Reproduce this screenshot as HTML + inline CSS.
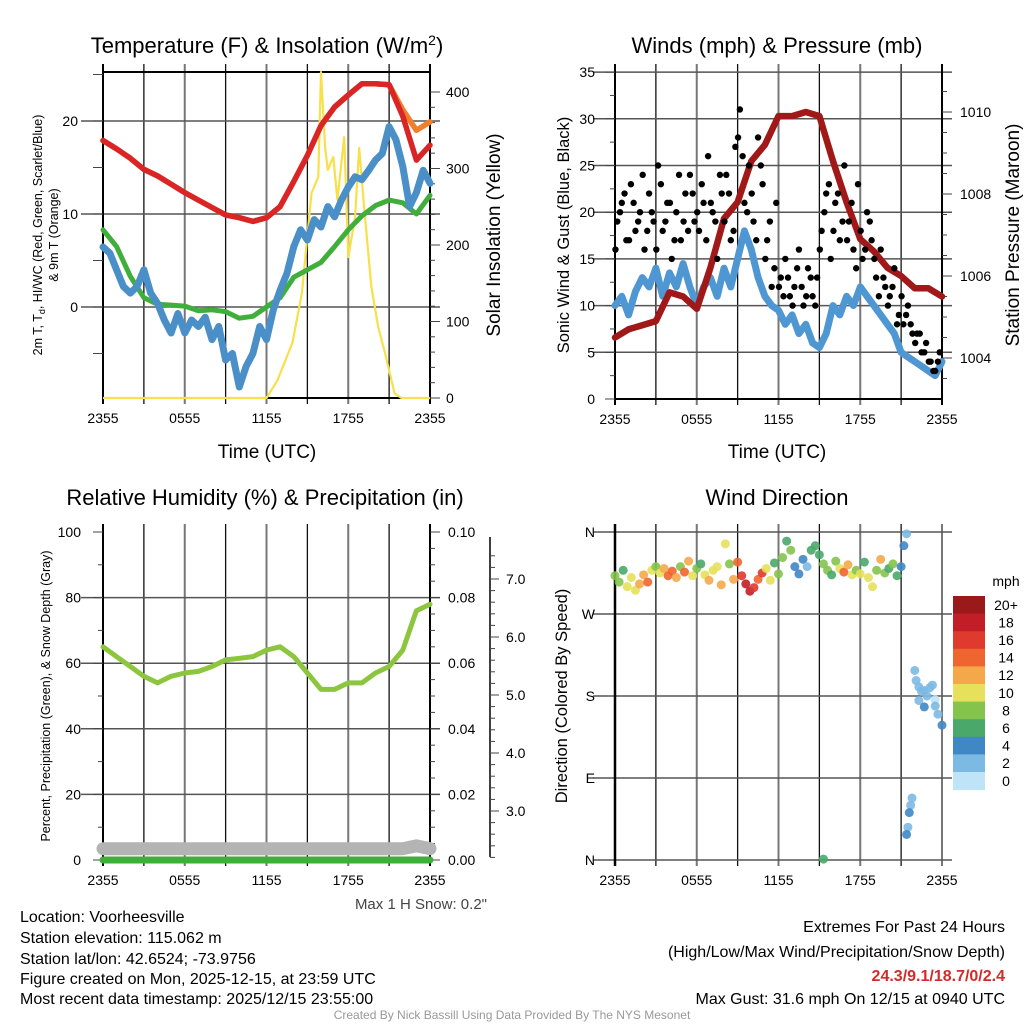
<!DOCTYPE html>
<html><head><meta charset="utf-8"><style>
html,body{margin:0;padding:0;background:#fff}
svg{display:block;font-family:"Liberation Sans",Arial,sans-serif}
</style></head><body>
<svg id="fig" width="1024" height="1024" viewBox="0 0 1024 1024">
<rect width="1024" height="1024" fill="#fff"/>
<g id="p1"></g>
<g id="p2"></g>
<g id="p3"></g>
<g id="p4"></g>
<g font-size="16" fill="#000">
<text x="20" y="922">Location: Voorheesville</text>
<text x="20" y="943">Station elevation: 115.062 m</text>
<text x="20" y="964">Station lat/lon: 42.6524; -73.9756</text>
<text x="20" y="984">Figure created on Mon, 2025-12-15, at 23:59 UTC</text>
<text x="20" y="1004">Most recent data timestamp: 2025/12/15 23:55:00</text>
<text x="1005" y="932" text-anchor="end">Extremes For Past 24 Hours</text>
<text x="1005" y="957" text-anchor="end">(High/Low/Max Wind/Precipitation/Snow Depth)</text>
<text x="1005" y="981" text-anchor="end" fill="#d42a2a" font-weight="bold">24.3/9.1/18.7/0/2.4</text>
<text x="1005" y="1004" text-anchor="end">Max Gust: 31.6 mph On 12/15 at 0940 UTC</text>
<text x="487" y="909" text-anchor="end" fill="#444" font-size="15">Max 1 H Snow: 0.2"</text>
<text x="512" y="1019" text-anchor="middle" fill="#999" font-size="12">Created By Nick Bassill Using Data Provided By The NYS Mesonet</text>
</g>
</svg>
<script>
// ---- data ----
const xTickLabels = ["2355","0555","1155","1755","2355"];
const tempRed = [17.9,17.0,16.0,14.8,14.1,13.2,12.3,11.5,10.7,9.9,9.6,9.2,9.6,10.8,13.5,16.3,19.5,21.5,22.8,24.0,24.0,23.9,20.5,15.8,17.4];
const tempOrange = [17.9,17.0,16.0,14.8,14.1,13.2,12.3,11.5,10.7,9.9,9.6,9.2,9.6,10.8,13.5,16.3,19.5,21.5,22.8,24.0,24.0,23.9,21.2,19.0,19.9];
const dewGreen = [8.3,6.5,3.3,1.0,0.3,0.2,0.1,-0.4,-0.3,-0.5,-1.2,-1.0,0.0,1.0,3.2,4.0,4.8,6.5,8.3,9.8,10.9,11.5,11.2,10.0,12.0];
const chillBlue = [6.45,5.8,4.0,2.2,1.5,2.2,4.0,1.5,0.4,-1.4,-2.8,-0.7,-2.8,-1.4,-2.1,-1.1,-3.5,-2.1,-5.7,-5.0,-8.6,-6.4,-5.0,-2.1,-3.5,-0.3,1.8,3.6,6.5,8.3,7.2,9.4,8.6,10.8,9.7,11.5,12.9,14.0,13.7,14.7,15.8,16.5,19.4,18.0,15.1,10.8,12.3,14.7,13.3];
const solarHours = [0,12.0,12.8,13.9,14.6,15.3,15.8,16.0,16.3,16.5,16.9,17.2,17.7,18.0,18.5,18.8,19.2,19.7,20.2,20.7,21.4,21.9,24];
const solarValues = [0,0,23,72,137,268,289,426,328,298,315,259,341,184,237,327,242,145,93,59,6,0,0];
const windBlue = [10,11,9,11.5,13,12,14,11,13.5,12,14.5,12,10,12,13,11,14,12,15,18,16,13,11,10,9.5,8,9,7,8,6,5.5,7,10,9,11,10,12,11,10,9,8,7,5,4.5,4,3.5,3,2.5,4];
const pressure = [1004.5,1004.7,1004.8,1004.9,1005.6,1005.5,1005.2,1006.2,1007.4,1007.8,1008.8,1009.2,1009.9,1009.9,1010.0,1009.9,1008.8,1007.8,1006.9,1006.6,1006.2,1006.0,1005.7,1005.7,1005.5];
const gusts = [19,21,17,23,18,20,16,22,19,25,18,21,15,20,17,22,24,19,18,21,26,20,15,22,24,17,27,31,21,25,19,28,23,17,12,21,13,15,11,12,16,10,14,11,13,18,22,15,21,17,25,19,16,23,15,20,17,13,16,12,11,14,9,8,10,7,7,5,6,4,3,5];
const gusts2 = [16,20,22,17,21,19,24,18,20,16,23,19,21,17,24,19,18,22,20,23,17,21,19,24,19,22,18,28,26,20,22,17,25,15,19,14,12,11,13,10,14,12,11,13,10,16,20,23,18,22,19,17,21,14,18,16,19,15,11,13,10,12,8,11,9,8,6,7,5,4,3,4];
const rh = [65,62,59,56,54,56,57,57.5,59,61,61.5,62,64,65,62,57,52,52,54,54,57,59,64,76,78];
const snowDepth = [2.35,2.35,2.35,2.35,2.35,2.35,2.35,2.35,2.35,2.35,2.35,2.35,2.35,2.35,2.35,2.35,2.35,2.35,2.35,2.35,2.35,2.35,2.35,2.4,2.35];
const precip = [0,0,0,0,0,0,0,0,0,0,0,0,0,0,0,0,0,0,0,0,0,0,0,0,0];
const dirHours = [0.0,0.3,0.6,0.9,1.2,1.5,1.8,2.1,2.4,2.7,3.0,3.3,3.6,3.9,4.2,4.5,4.8,5.1,5.4,5.7,6.0,6.3,6.6,6.9,7.2,7.5,7.8,8.1,8.4,8.7,9.0,9.3,9.6,9.9,10.2,10.5,10.8,11.1,11.4,11.7,12.0,12.3,12.6,12.9,13.2,13.5,13.8,14.1,14.4,14.7,15.0,15.3,15.6,15.9,16.2,16.5,16.8,17.1,17.4,17.7,18.0,18.3,18.6,18.9,19.2,19.5,19.8,20.1,20.4,20.7,21.0,21.2,21.4,15.3,22.0,22.1,22.3,22.5,22.7,22.9,23.1,23.3,23.5,23.5,22.3,22.7,23.7,24.0,21.8,21.7,21.6,21.5,21.4];
const dirDegrees = [312,305,318,300,310,296,303,313,305,318,322,315,320,312,317,310,322,316,328,312,320,325,313,307,318,322,302,347,325,308,327,312,303,295,299,308,315,320,307,326,314,332,350,340,322,314,330,322,340,345,335,325,318,313,328,320,316,324,313,318,314,327,310,300,318,330,315,320,325,312,322,345,358,1,208,197,190,185,186,180,189,192,176,169,175,168,160,148,68,60,52,36,28];
const dirSpeeds = [9,8,7,10,11,10,12,12,14,10,8,11,12,15,14,12,9,14,12,10,8,7,10,12,11,10,12,10,8,12,14,16,18,19,17,14,16,10,10,7,8,8,7,8,5,4,4,3,6,6,7,8,9,7,8,10,14,12,10,9,11,6,10,10,8,12,9,7,8,6,4,4,3,6,2,2,3,2,2,2,2,2,1,2,3,4,2,4,2,2,4,2,4];
const cbLabels = ["20+","18","16","14","12","10","8","6","4","2","0"];
const speedColors = ["#bfe4f7","#7cb9e3","#3f87c5","#4aa86a","#84c44c","#e6e05a","#f5a84a","#ef6530","#de3a2e","#c11e28","#9a1a1c"];

// ---- helpers ----
const NS="http://www.w3.org/2000/svg";
function mk(parent, tag, attrs){const e=document.createElementNS(NS,tag);for(const k in attrs)e.setAttribute(k,attrs[k]);parent.appendChild(e);return e;}
function txt(parent,x,y,s,size,anchor,extra){const t=mk(parent,'text',Object.assign({x:x,y:y,'font-size':size,'text-anchor':anchor||'middle'},extra||{}));t.textContent=s;return t;}
function panelFrame(g,L,R,T,B,title,tx,ty){
  for(let i=0;i<=8;i++){const x=L+(R-L)*i/8;
    const ln=mk(g,'line',{x1:x,x2:x,y1:T-8,y2:B+6,stroke:i%2?'#111':'#777','stroke-width':i%2?1.3:2});
    
    }
  for(let i=0;i<5;i++){const t=txt(g,L+(R-L)*i/4,B+25,xTickLabels[i],14);
    
    }
  if(title){const tt=txt(g,tx,ty,title,22);
  
  }
}
function hgrid(g,L,R,y){const l=mk(g,'line',{x1:L-22,x2:R+10,y1:y,y2:y,stroke:'#555','stroke-width':1.5});
  
  }
function axisLine(g,x,T,B,w){const l=mk(g,'line',{x1:x,x2:x,y1:T-8,y2:B+6,stroke:'#000','stroke-width':w||2});
  
  }
function tick(g,x,y,len){const l=mk(g,'line',{x1:x,x2:x+len,y1:y,y2:y,stroke:'#444','stroke-width':1});
  
  }
function poly(g,vals,xf,yf,color,w,name){
  const n=vals.length;const pts=vals.map((v,i)=>xf(24*i/(n-1)).toFixed(1)+','+yf(v).toFixed(1)).join(' ');
  const p=mk(g,'polyline',{points:pts,fill:'none',stroke:color,'stroke-width':w,'stroke-linejoin':'round','stroke-linecap':'round'});
  
  
  return p;}

// ---- Panel 1 ----
(function(){
  const g=document.getElementById('p1');
  const L=103,R=430,T=72,B=398;
  const X=h=>L+(R-L)*h/24;
  const Y=v=>307-v*9.3;
  const S=w=>B-w*0.765;
  panelFrame(g,L,R,T,B,'',267,53);
  const tt=mk(g,'text',{x:267,y:53,'font-size':22,'text-anchor':'middle'});
  tt.innerHTML='Temperature (F) &amp; Insolation (W/m<tspan dy="-8" font-size="14">2</tspan><tspan dy="8">)</tspan>';
  
  
  [20,10,0].forEach(v=>hgrid(g,L,R,Y(v)));
  mk(g,'line',{x1:L,x2:R,y1:T,y2:T,stroke:'#000','stroke-width':2});
  mk(g,'line',{x1:L,x2:R,y1:B,y2:B,stroke:'#000','stroke-width':2});
  axisLine(g,L,T,B);axisLine(g,R,T,B);
  for(let v=-5;v<=25;v+=5){tick(g,L-10,Y(v),10);}
  [20,10,0].forEach(v=>{const t=txt(g,L-25,Y(v)+5,String(v),14,'end');});
  for(let w=0;w<=400;w+=20){tick(g,R,S(w),w%100?5:10);}
  [0,100,200,300,400].forEach(w=>{const t=txt(g,R+16,S(w)+5,String(w),14,'start');});
  const sp=mk(g,'polyline',{points:solarHours.map((h,i)=>X(h).toFixed(1)+','+S(solarValues[i]).toFixed(1)).join(' '),fill:'none',stroke:'#f7e04a','stroke-width':2.2,'stroke-linejoin':'round'});
  
  
  poly(g,dewGreen,X,Y,'#3fae3a',5,'dewpoint-line');
  poly(g,tempOrange,X,Y,'#f07f2c',5.5,'9m-temperature-line');
  poly(g,tempRed,X,Y,'#d92525',5.5,'2m-temperature-line');
  poly(g,chillBlue,X,Y,'#4a8fc8',7,'wind-chill-line');
  const yl=mk(g,'text',{transform:'translate(42,235) rotate(-90)','font-size':12.5,'text-anchor':'middle'});
  yl.innerHTML='2m T, T<tspan font-size="9" dy="3">d</tspan><tspan dy="-3">, HI/WC (Red, Green, Scarlet/Blue)</tspan>';
  
  
  const yl2=txt(g,0,0,'& 9m T (Orange)',12.5);yl2.setAttribute('transform','translate(58,235) rotate(-90)');
  
  
  const yr=txt(g,0,0,'Solar Insolation (Yellow)',19);yr.setAttribute('transform','translate(500,235) rotate(-90)');
  
  
  const xl=txt(g,267,458,'Time (UTC)',19);
  
  
})();

// ---- Panel 2 ----
(function(){
  const g=document.getElementById('p2');
  const L=615,R=942,T=72,B=399;
  const X=h=>L+(R-L)*h/24;
  const Y=v=>B-v*9.34;
  const P=p=>358-(p-1004)*41;
  panelFrame(g,L,R,T,B,'Winds (mph) & Pressure (mb)',777,53);
  for(let v=5;v<=35;v+=5)hgrid(g,L,R,Y(v));
  mk(g,'line',{x1:L,x2:R,y1:B,y2:B,stroke:'#000','stroke-width':2});
  axisLine(g,L,T,B);axisLine(g,R,T,B);
  for(let v=0;v<=35;v+=2.5){tick(g,L-(v%5?5:10),Y(v),v%5?5:10);}
  for(let v=0;v<=35;v+=5){const t=txt(g,L-20,Y(v)+5,String(v),14,'end');}
  for(let p=1003.5;p<=1010.5;p+=0.5){tick(g,R,P(p),Number.isInteger(p/2)?10:5);}
  [1004,1006,1008,1010].forEach(p=>{const t=txt(g,R+18,P(p)+5,String(p),14,'start');});
  poly(g,windBlue,X,Y,'#4f97d2',7,'sonic-wind-line');
  poly(g,pressure,X,P,'#a01818',6.5,'pressure-line');
  const n=gusts.length;
  gusts.forEach((v,i)=>{const c=mk(g,'circle',{cx:X(24*(i+0.5)/n),cy:Y(v),r:3.2,fill:'#000'});
    
    });
  const n2=gusts2.length;
  gusts2.forEach((v,i)=>{const c=mk(g,'circle',{cx:X(24*(i+0.1)/n2),cy:Y(v),r:3.2,fill:'#000'});
    
    });
  const yl=txt(g,0,0,'Sonic Wind & Gust (Blue, Black)',16.5);yl.setAttribute('transform','translate(569,235) rotate(-90)');
  
  
  const yr=txt(g,0,0,'Station Pressure (Maroon)',19);yr.setAttribute('transform','translate(1019,235) rotate(-90)');
  
  
  const xl=txt(g,777,458,'Time (UTC)',19);
  
  
})();

// ---- Panel 3 ----
(function(){
  const g=document.getElementById('p3');
  const L=103,R=430,T=532,B=860;
  const X=h=>L+(R-L)*h/24;
  const Y=v=>B-v*3.28;
  const PR=p=>B-p*3280;
  const SD=s=>811-(s-3)*58;
  panelFrame(g,L,R,T,B,'Relative Humidity (%) & Precipitation (in)',265,505);
  [20,40,60,80].forEach(v=>hgrid(g,L,R,Y(v)));
  axisLine(g,L,T,B);axisLine(g,R,T,B);
  for(let v=0;v<=100;v+=10){tick(g,L-(v%20?5:10),Y(v),v%20?5:10);}
  for(let v=0;v<=100;v+=20){const t=txt(g,L-22,Y(v)+5,String(v),14,'end');}
  for(let k=0;k<=20;k++){tick(g,R,PR(k*0.005),k%4?5:10);}
  for(let k=0;k<=5;k++){const t=txt(g,R+18,PR(k*0.02)+5,(k*0.02).toFixed(2),14,'start');}
  const oa=mk(g,'line',{x1:490,x2:490,y1:T+5,y2:B-3,stroke:'#000','stroke-width':1.5});
  
  
  for(let s=2.2;s<=7.6;s+=0.2){tick(g,490,SD(s),Math.abs(s-Math.round(s))<0.01?9:5);}
  for(let s=3;s<=7;s++){const t=txt(g,506,SD(s)+5,s.toFixed(1),14,'start');}
  poly(g,snowDepth,X,SD,'#b4b4b4',13,'snow-depth-line');
  poly(g,precip,X,PR,'#3fae3a',7,'precipitation-line');
  poly(g,rh,X,Y,'#8cc63f',5,'relative-humidity-line');
  const yl=txt(g,0,0,'Percent, Precipitation (Green), & Snow Depth (Gray)',12.5);yl.setAttribute('transform','translate(50,696) rotate(-90)');
  
  
})();

// ---- Panel 4 ----
(function(){
  const g=document.getElementById('p4');
  const L=615,R=942,T=532,B=860;
  const X=h=>L+(R-L)*h/24;
  const Y=d=>B-d*(B-T)/360;
  panelFrame(g,L,R,T,B,'Wind Direction',777,505);
  [360,270,180,90,0].forEach(d=>hgrid(g,L,R,Y(d)));
  axisLine(g,L,T,B,2.5);
  ["N","W","S","E","N"].forEach((s,i)=>{const t=txt(g,L-20,Y(360-90*i)+5,s,14,'end');});
  dirHours.forEach((h,i)=>{const b=Math.min(10,Math.floor(dirSpeeds[i]/2));
    const c=mk(g,'circle',{cx:X(h),cy:Y(dirDegrees[i]),r:4.5,fill:speedColors[b],'fill-opacity':0.9});
    
    });
  const yl=txt(g,0,0,'Direction (Colored By Speed)',16.5);yl.setAttribute('transform','translate(567,696) rotate(-90)');
  
  
  const top=596,h=17.6;
  const ut=txt(g,1006,586,'mph',14);
  
  
  cbLabels.forEach((s,i)=>{
    const r=mk(g,'rect',{x:953,y:top+i*h,width:32,height:h+0.5,fill:speedColors[10-i]});
    
    
    const t=txt(g,1006,top+i*h+h/2+5,s,14);
    
    
  });
})();
</script>
</body></html>
